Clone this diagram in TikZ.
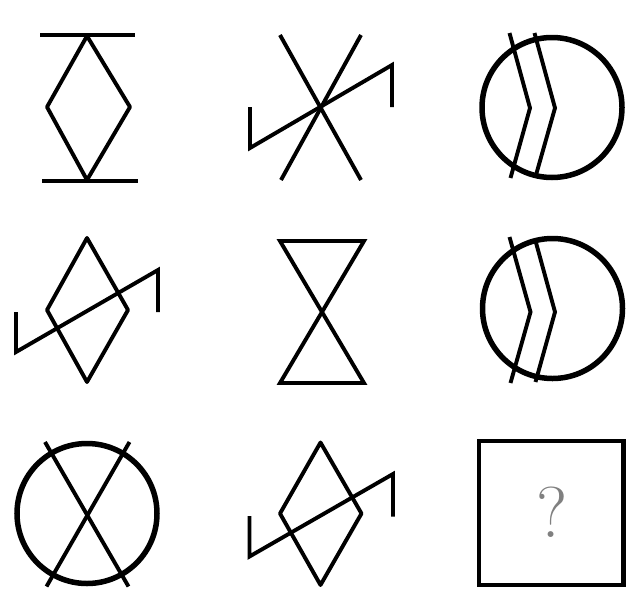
\documentclass[tikz,border=0pt]{standalone}
\begin{document}
\begin{tikzpicture}[x=1pt,y=-1pt,
  stroke/.style={line width=3.9pt,black},
  ring/.style={line width=5.5pt,black},
  frame/.style={line width=4.2pt,black},
  qmark/.style={text=black!50,font=\fontsize{72}{72}\selectfont,inner sep=0pt}]
\useasboundingbox (0,0) rectangle (639,608);
% cell 1
\draw[stroke] (40,35) -- (135,35);
\draw[stroke] (42,181) -- (138,181);
\draw[stroke,line join=round] (87,36) -- (47,107) -- (87,180) -- (130,107) -- cycle;
% cell 2
\draw[stroke] (280,35) -- (361,180);
\draw[stroke] (361,35) -- (281,180);
\draw[stroke] (250,107) -- (250,148) -- (392,65) -- (392,107);
% cell 3
\draw[ring] (552,107.5) circle (70);
\draw[stroke] (509.5,33) -- (530,108) -- (510.5,178);
\draw[stroke] (534.5,33) -- (555,108) -- (536,175);
% cell 4
\draw[stroke,line join=round] (87,238) -- (47,310) -- (87,382) -- (128,310) -- cycle;
\draw[stroke] (16,312) -- (16,352) -- (158,270) -- (158,312);
% cell 5
\draw[stroke] (280,241) -- (364,241) -- (280,383) -- (364,383) -- cycle;
% cell 6
\draw[ring] (552.5,308.5) circle (70);
\draw[stroke] (509.5,237) -- (530.5,312) -- (510.5,383);
\draw[stroke] (535,239) -- (555,312) -- (535.5,382);
% cell 7
\draw[ring] (87,513.5) circle (70);
\draw[stroke] (45,442) -- (128.5,586.5);
\draw[stroke] (129.5,442) -- (46.5,586.5);
% cell 8
\draw[stroke,line join=round] (320.5,442.5) -- (280,513.5) -- (320.5,585) -- (361.5,513.5) -- cycle;
\draw[stroke] (249.5,516) -- (249.5,556.5) -- (393,474) -- (393,516.5);
% cell 9
\draw[frame] (479,441) rectangle (623.5,585);
\node[qmark] (q) at (552.5,512) {?};
\end{tikzpicture}
\end{document}
